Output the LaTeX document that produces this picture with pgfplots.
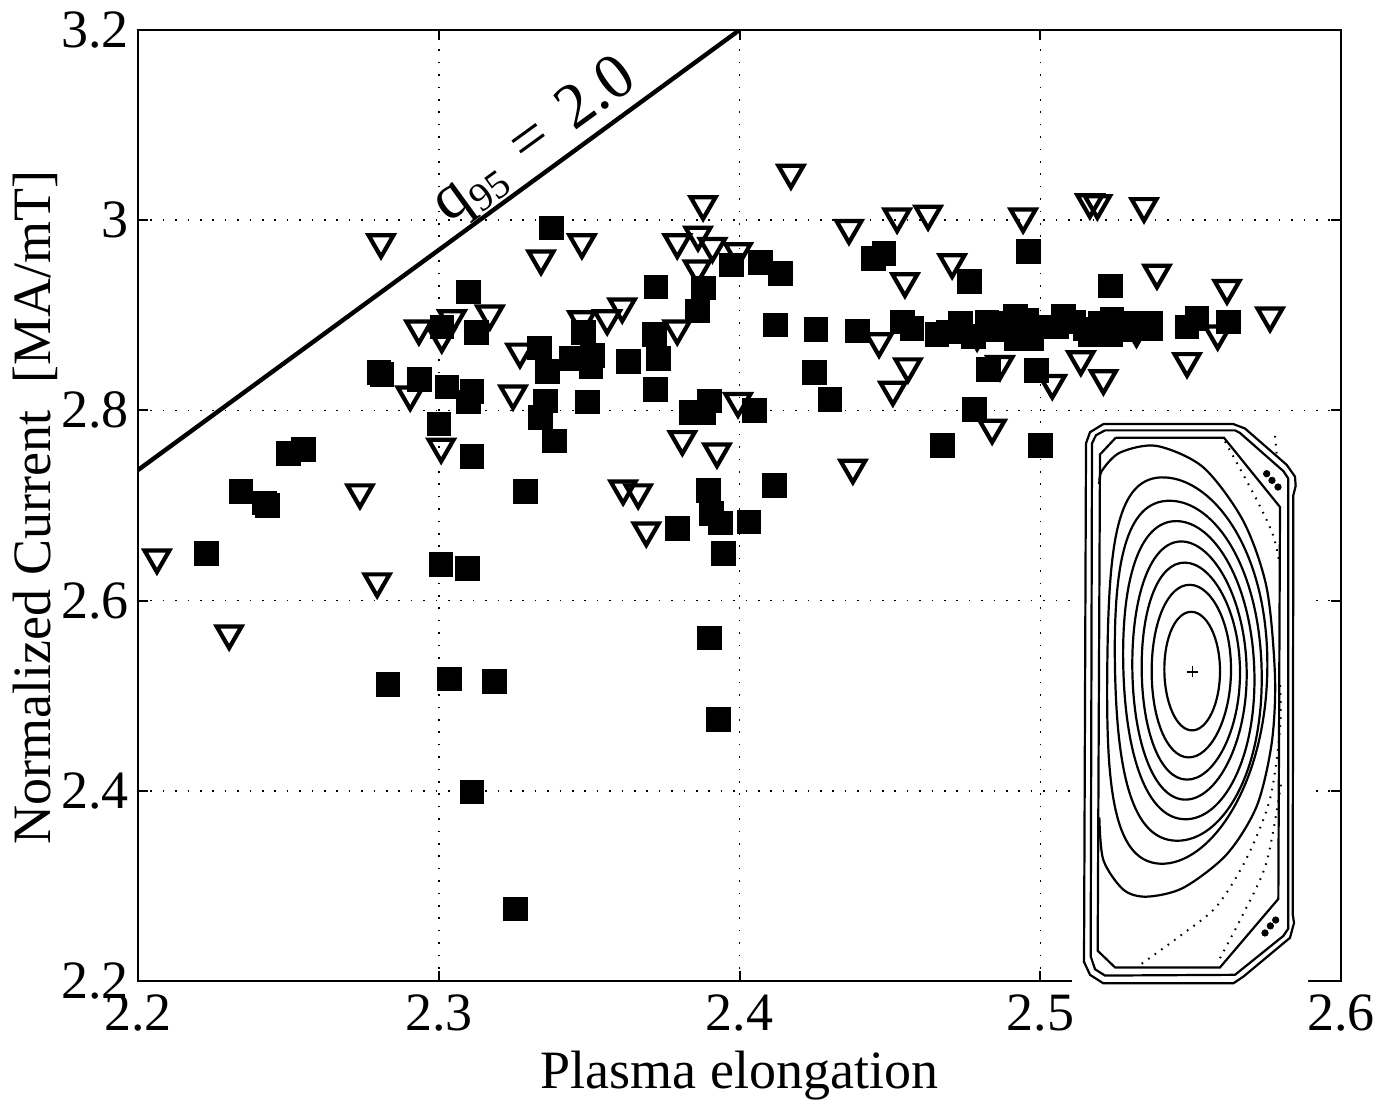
\documentclass[border=0pt]{standalone}
\usepackage{pgfplots}
\pgfplotsset{compat=1.18}
\usepackage{fontspec}
\setmainfont{Liberation Serif}
\pgfplotstableread{
x y
2.2226 2.650
2.2342 2.715
2.2419 2.703
2.2430 2.700
2.2500 2.755
2.2549 2.759
2.2800 2.840
2.2810 2.838
2.2830 2.512
2.2934 2.833
2.3000 2.786
2.3007 2.638
2.3010 2.888
2.3027 2.825
2.3034 2.518
2.3097 2.925
2.3097 2.809
2.3110 2.820
2.3125 2.882
2.3110 2.752
2.3094 2.634
2.3110 2.399
2.3184 2.515
2.3254 2.276
2.3287 2.715
2.3333 2.866
2.3337 2.793
2.3353 2.810
2.3360 2.841
2.3373 2.992
2.3383 2.768
2.3440 2.855
2.3480 2.882
2.3505 2.846
2.3510 2.858
2.3493 2.809
2.3630 2.852
2.3722 2.930
2.3716 2.880
2.3729 2.855
2.3719 2.8225
2.3792 2.676
2.3840 2.798
2.3880 2.798
2.3860 2.905
2.3880 2.929
2.3900 2.810
2.3895 2.716
2.3905 2.692
2.3935 2.682
2.3945 2.650
2.3899 2.561
2.3929 2.4755
2.3972 2.953
2.4030 2.683
2.4048 2.800
2.4068 2.956
2.4115 2.7216
2.4118 2.890
2.4135 2.944
2.4248 2.840
2.4254 2.8855
2.4300 2.812
2.4392 2.8838
2.4444 2.960
2.4480 2.9655
2.4540 2.8933
2.4573 2.8863
2.4656 2.880
2.4694 2.8828
2.4733 2.8916
2.4777 2.8782
2.4822 2.8933
2.4838 2.8852
2.4866 2.8916
2.4916 2.8993
2.4919 2.8758
2.4971 2.8758
2.4955 2.895
2.4999 2.888
2.5077 2.8993
2.5055 2.888
2.5110 2.8933
2.5150 2.8860
2.5165 2.880
2.5232 2.880
2.5238 2.8958
2.5199 2.8916
2.5280 2.8850
2.5310 2.8922
2.5365 2.8922
2.5320 2.8863
2.5365 2.8863
2.5487 2.888
2.5520 2.8968
2.5625 2.8933
2.4673 2.7636
2.4763 2.936
2.4780 2.8015
2.4826 2.8435
2.4960 2.9676
2.4986 2.8425
2.5000 2.7636
2.5232 2.931
}\squares
\pgfplotstableread{
x y
2.2063 2.6416
2.2303 2.5617
2.2738 2.710
2.2795 2.6164
2.2808 2.973
2.2905 2.813
2.2934 2.8824
2.3010 2.874
2.3044 2.893
2.3170 2.898
2.3008 2.758
2.3247 2.814
2.3270 2.858
2.3340 2.956
2.3476 2.973
2.3476 2.892
2.3560 2.893
2.3610 2.9055
2.3613 2.714
2.3663 2.710
2.3690 2.670
2.3793 2.8824
2.3793 2.973
2.3862 2.981
2.3879 3.013
2.3910 2.969
2.3995 2.9635
2.3860 2.9455
2.3995 2.806
2.3810 2.766
2.3925 2.753
2.4171 3.046
2.4364 2.988
2.4377 2.736
2.4464 2.869
2.4524 3.000
2.4550 2.932
2.4560 2.8425
2.4510 2.818
2.4627 3.003
2.4707 2.952
2.4790 2.876
2.4866 2.845
2.4840 2.778
2.4943 3.000
2.5040 2.825
2.5135 2.850
2.5210 2.830
2.5165 3.015
2.5190 3.014
2.5320 2.880
2.5345 3.011
2.5388 2.941
2.5488 2.848
2.5590 2.877
2.5621 2.925
2.5764 2.896
}\triangles
\begin{document}
\begin{tikzpicture}[x=1pt,y=1pt]
\path[use as bounding box] (-69pt,-62.5pt) rectangle (628.5pt,490.5pt);
\begin{axis}[
  at={(0pt,0pt)},anchor=south west,
  scale only axis,width=601.5pt,height=475.5pt,
  xmin=2.2,xmax=2.6,ymin=2.2,ymax=3.2,
  xtick={2.2,2.3,2.4,2.5,2.6},
  ytick={2.2,2.4,2.6,2.8,3.0,3.2},
  xticklabels={2.2,2.3,2.4,2.5,2.6},
  yticklabels={2.2,2.4,2.6,2.8,3,3.2},
  grid=major,
  major grid style={black,line width=0.75pt,dash pattern=on 0.8pt off 5.4pt},
  tick style={black,line width=1pt},
  major tick length=5pt,
  tick align=inside,
  xtick pos=both,ytick pos=both,
  axis line style={line width=1.3pt},
  tick label style={font=\fontsize{27}{30}\selectfont},
  xticklabel style={yshift=-3.5pt},
  yticklabel style={xshift=-1pt},
  xlabel={Plasma elongation},
  ylabel={Normalized Current\ \ [MA/mT]},
  label style={font=\fontsize{27}{30}\selectfont},
  xlabel style={at={(axis description cs:0.5,-0.099)},anchor=center},
  ylabel style={at={(axis description cs:-0.085,0.498)},anchor=center},
]
\addplot[black,line width=2.2pt] coordinates {(2.2,2.7373) (2.4,3.2)};
\addplot[only marks,mark=triangle,mark size=7.2pt,mark options={yshift=1.7pt,rotate=180,line width=2.1pt,draw=black,fill=none}] table[x=x,y=y] {\triangles};
\addplot[only marks,mark=square*,mark size=5.9pt,mark options={draw=black,fill=black,line width=0.2pt}] table[x=x,y=y] {\squares};
\node[rotate=36,anchor=base,font=\fontsize{32}{34}\selectfont] at (axis cs:2.3350,3.0697) {q\raisebox{-.18em}{\fontsize{20}{22}\selectfont 95}\hspace{.12em} = \hspace{.12em}2.0};
\end{axis}
\begin{axis}[
  at={(466pt,-4.5pt)},anchor=south west,
  scale only axis,width=140pt,height=290pt,
  xmin=0,xmax=840,ymin=0,ymax=1566,y dir=reverse,
  hide axis,
]
\addplot[fill=white,draw=none,forget plot] coordinates {(6,27) (714,27) (714,1566) (6,1566) (6,27)};
\addplot[black,line width=1.1pt] coordinates {(100,38)(490,38)(525,50)(650,148)(675,180)(677,205)(670,230)(668,1360)(672,1385)(660,1425)(520,1530)(490,1548)(100,1548)(60,1525)(42,1490)(48,90)(60,60)(100,38)};
\addplot[black,line width=1.1pt] coordinates {(105,55)(495,55)(510,62)(640,165)(655,185)(655,1400)(640,1420)(495,1525)(105,1527)(75,1510)(62,1475)(66,90)(78,68)(105,55)};
\addplot[black,line width=1.1pt] coordinates {(137,75)(462,75)(630,262)(625,1320)(450,1505)(135,1505)(83,1460)(90,120)(137,75)};
\addplot[black,line width=1.1pt,smooth] coordinates {(88,1100)(100,1215)(160,1295)(230,1314)(340,1290)(470,1200)(560,1070)(605,900)(615,720)(590,480)(520,300)(400,155)(260,97)(150,115)(95,165)(88,200)};
\addplot[black,line width=1.1pt,smooth cycle,tension=1.1] coordinates {(285,182)(112,680)(270,1225)(592,700)};
\addplot[black,line width=1.1pt,smooth cycle,tension=1.1] coordinates {(300,245)(135,700)(320,1163)(575,705)};
\addplot[black,line width=1.1pt,smooth cycle,tension=1.05] coordinates {(320,300)(160,700)(345,1105)(553,705)};
\addplot[black,line width=1.1pt,smooth cycle,tension=1] coordinates {(335,355)(187,700)(345,1052)(530,705)};
\addplot[black,line width=1.1pt,smooth cycle,tension=1] coordinates {(345,412)(215,700)(350,998)(510,705)};
\addplot[black,line width=1.1pt,smooth cycle,tension=1] coordinates {(360,472)(245,700)(355,938)(483,705)};
\addplot[black,line width=1.1pt,smooth cycle,tension=1] coordinates {(365,545)(283,700)(365,865)(450,705)};
\addplot[black,line width=0.7pt] coordinates {(352,707)(385,707)};
\addplot[black,line width=0.7pt] coordinates {(368,690)(368,722)};
\addplot[black,line width=1pt,smooth,dash pattern=on 0.8pt off 3.2pt] coordinates {(465,85)(520,175)(570,260)(610,340)(630,420)};
\addplot[black,line width=1pt,smooth,dash pattern=on 0.8pt off 3.2pt] coordinates {(215,1495)(330,1420)(440,1340)(530,1210)(600,1050)(630,860)(630,740)};
\addplot[black,line width=1pt,smooth,dash pattern=on 0.8pt off 3.2pt] coordinates {(450,1480)(520,1360)(590,1220)(635,1000)};
\addplot[black,line width=1pt,dash pattern=on 0.8pt off 3.2pt] coordinates {(615,70)(620,120)};
\addplot[only marks,mark=*,mark size=1.6pt,black] coordinates {(590,172)(606,190)(624,208)(585,1412)(601,1393)(617,1377)};
\end{axis}
\end{tikzpicture}
\end{document}
